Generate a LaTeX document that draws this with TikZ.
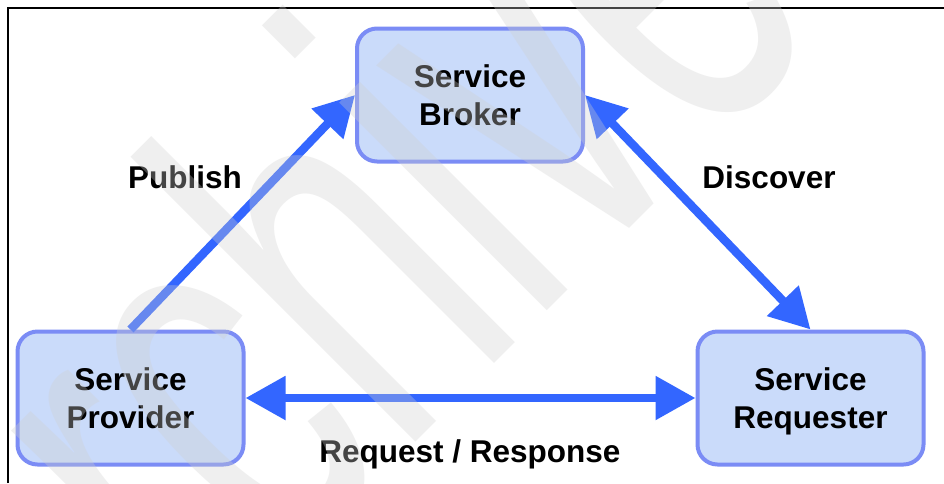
\documentclass[tikz,border=0pt]{standalone}
\usepackage{fontspec}
\setmainfont{Liberation Sans}
\usetikzlibrary{arrows.meta}
\definecolor{boxfill}{HTML}{CADBFA}
\definecolor{boxline}{HTML}{7B8CF5}
\definecolor{arrowblue}{HTML}{3366FF}
\definecolor{wmgray}{HTML}{CFCFCF}
\begin{document}
\begin{tikzpicture}[x=1pt,y=-1pt,
  box/.style={draw=boxline, line width=4pt, fill=boxfill, rounded corners=20pt,
    minimum width=226pt, minimum height=133pt, inner sep=0pt, align=center,
    text depth=0pt, font=\fontsize{31.5}{38.5}\selectfont\bfseries},
  conn/.style={draw=arrowblue, line width=8.5pt},
  headtip/.style={-{Triangle[length=40pt,width=42pt]}},
  bothtip/.style={{Triangle[length=40pt,width=42pt]}-{Triangle[length=40pt,width=42pt]}},
  lbl/.style={anchor=base, inner sep=0pt, font=\fontsize{31.5}{38.5}\selectfont\bfseries},
  wm/.style={anchor=base west, rotate=45, xscale=0.6, inner sep=0pt, text=wmgray,
    text opacity=0.33, font=\fontsize{556}{556}\selectfont}
]
\useasboundingbox (0,0) rectangle (944,483);
\clip (0,0) rectangle (944,483);
\fill[white] (0,0) rectangle (944,483);
\draw[line width=1.5pt] (8,483) -- (8,8) -- (944,8);

\node[box] (brok) at (470,95) {Service\\Broker};
\node[box] (prov) at (130.5,398) {Service\\Provider};
\node[box] (req) at (810.5,398) {Service\\Requester};

\draw[conn, headtip] (prov.north) -- (brok.west);
\draw[conn, bothtip] (brok.east) -- (req.north);
\draw[conn, bothtip] (prov.east) -- (req.west);

\node[lbl] (pub) at (185,188) {Publish};
\node[lbl] (disc) at (769,188) {Discover};
\node[lbl] (rr) at (470,462) {Request / Response};

\node[wm] (water) at (46,812) {Archive};
\end{tikzpicture}
\end{document}
